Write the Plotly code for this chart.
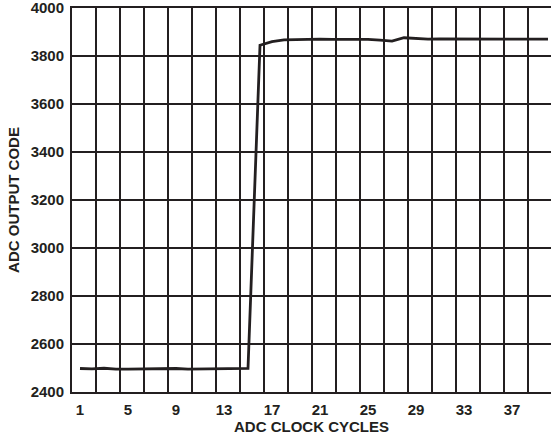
import plotly.graph_objects as go

# Data
cycles = list(range(1, 41))
output_code = [2498, 2496, 2499, 2495, 2495, 2496, 2498, 2496, 2498, 2495,
               2496, 2495, 2498, 2496, 2498,
               3845, 3860, 3867, 3869, 3870, 3870, 3869, 3870, 3871, 3869,
               3866, 3862, 3876, 3872, 3870, 3871, 3871, 3870, 3871, 3871,
               3870, 3871, 3870, 3870, 3870]
x_tick_vals = [1, 5, 9, 13, 17, 21, 25, 29, 33, 37]
y_tick_vals = [2400, 2600, 2800, 3000, 3200, 3400, 3600, 3800, 4000]

INK = "#231f20"
FONT = "Liberation Sans, Arial, sans-serif"

W, H = 551, 442
ML, MR, MT, MB = 72, 0, 8, 50
px_per_unit = 12.0
x0 = 1 / 3
x1 = x0 + (W - ML - MR) / px_per_unit

fig = go.Figure()
fig.add_trace(go.Scatter(
    x=cycles, y=output_code, mode="lines",
    line=dict(color=INK, width=2.8), showlegend=False, hoverinfo="skip",
))

fig.update_layout(
    width=W, height=H,
    margin=dict(l=ML, r=MR, t=MT, b=MB, autoexpand=False),
    paper_bgcolor="white", plot_bgcolor="white",
    font=dict(family=FONT, size=15, color=INK),
)
fig.update_xaxes(
    range=[x0, x1], automargin=False,
    tickmode="array", tickvals=x_tick_vals,
    ticktext=[f"<b>{v}</b>" for v in x_tick_vals],
    showgrid=False, zeroline=False,
    showline=True, linecolor=INK, linewidth=2, mirror=True,
    ticks="", ticklabelstandoff=3, ticklabeloverflow="allow",
    minor=dict(tick0=x0, dtick=2, showgrid=True, gridcolor=INK, gridwidth=1.3, ticks=""),
    title=dict(text="<b>ADC CLOCK CYCLES</b>", font=dict(size=15), standoff=2),
)
fig.update_yaxes(
    range=[2400, 4000], automargin=False,
    tickmode="array", tickvals=y_tick_vals,
    ticktext=[f"<b>{v}</b>" for v in y_tick_vals],
    showgrid=True, gridcolor=INK, gridwidth=1.3, zeroline=False,
    showline=True, linecolor=INK, linewidth=2,
    ticks="", ticklabelstandoff=3, ticklabeloverflow="allow",
    title=dict(text="<b>ADC OUTPUT CODE</b>", font=dict(size=15), standoff=7),
)

fig.write_html(
    "out.html",
    config={"displayModeBar": False, "staticPlot": True},
    post_script="document.body.style.margin='0';document.body.style.overflow='hidden';",
)
